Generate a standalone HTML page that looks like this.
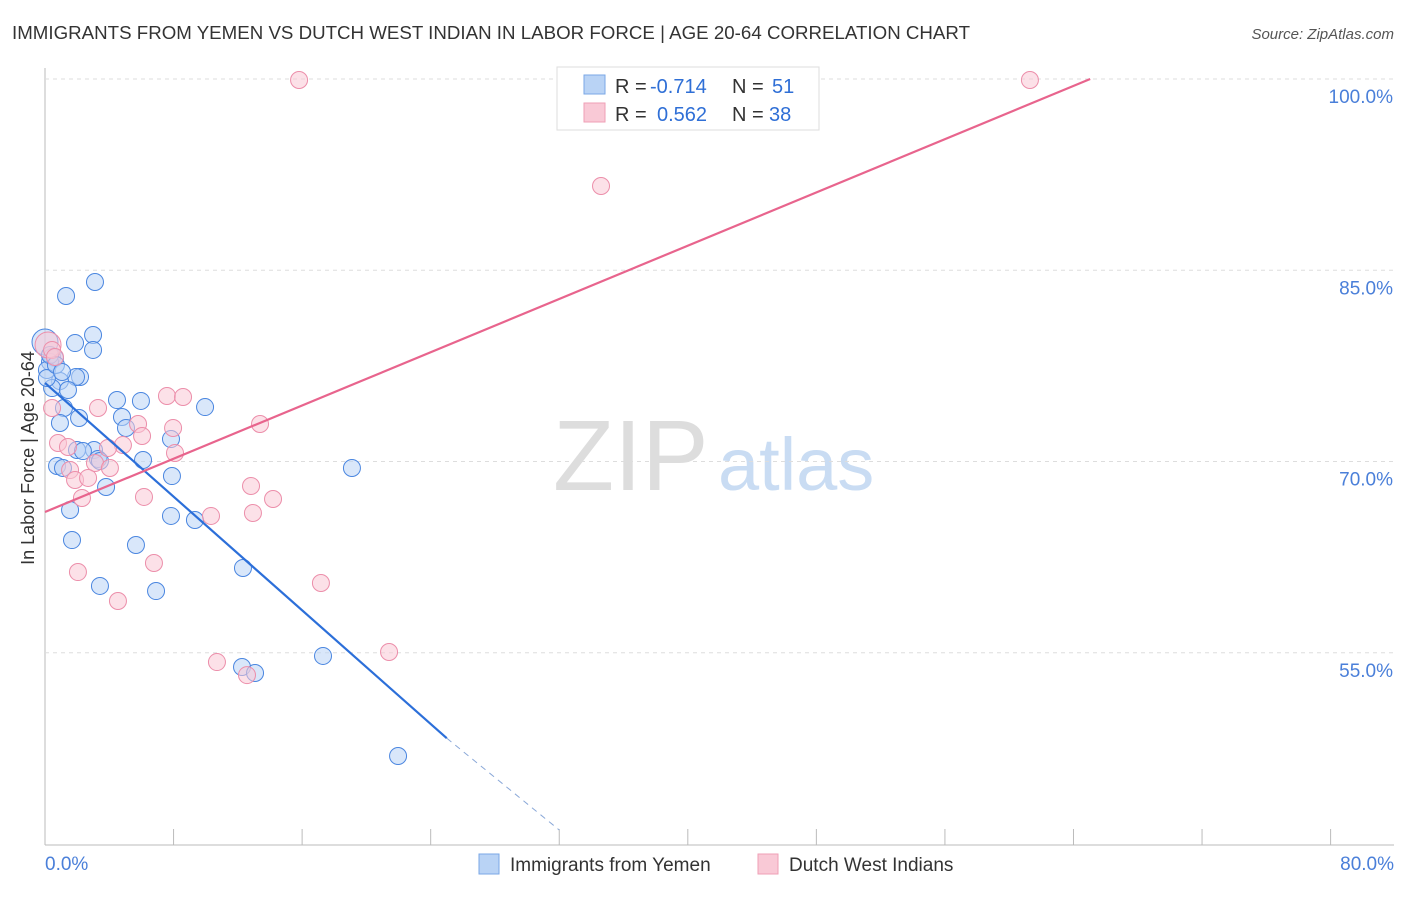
<!DOCTYPE html>
<html><head><meta charset="utf-8"><style>
body{margin:0;background:#fff;font-family:"Liberation Sans",sans-serif;}
svg text{font-family:"Liberation Sans",sans-serif;}
</style></head><body>
<svg id="chart" width="1406" height="892">
<text x="12" y="39" font-size="18.7" fill="#333" textLength="958">IMMIGRANTS FROM YEMEN VS DUTCH WEST INDIAN IN LABOR FORCE | AGE 20-64 CORRELATION CHART</text>
<text x="1394" y="39" font-size="15" fill="#555" font-style="italic" text-anchor="end">Source: ZipAtlas.com</text>
<text x="553" y="490" font-size="100" fill="#ddd" font-family="Liberation Serif">ZIP</text>
<text x="718" y="490" font-size="74" fill="#c9dcf3">atlas</text>
<text transform="translate(34,458) rotate(-90)" font-size="18" fill="#333" text-anchor="middle">In Labor Force | Age 20-64</text>
<g id="grid"></g><g id="pts"></g><g id="lines"></g>
<g>
<rect x="557" y="67" width="262" height="63" fill="#fff" stroke="#ddd"/>
<rect x="584" y="75" width="21" height="19" fill="#b9d3f5" stroke="#7aa7e6"/>
<rect x="584" y="103" width="21" height="19" fill="#f9c9d6" stroke="#ef9fb6"/>
<text x="615" y="93" font-size="20" fill="#333">R = </text><text x="650" y="93" font-size="20" fill="#2f6fd6">-0.714</text>
<text x="732" y="93" font-size="20" fill="#333">N = </text><text x="772" y="93" font-size="20" fill="#2f6fd6">51</text>
<text x="615" y="121" font-size="20" fill="#333">R = </text><text x="657" y="121" font-size="20" fill="#2f6fd6">0.562</text>
<text x="732" y="121" font-size="20" fill="#333">N = </text><text x="769" y="121" font-size="20" fill="#2f6fd6">38</text>
</g>
<g>
<rect x="479" y="854" width="20" height="20" fill="#b9d3f5" stroke="#7aa7e6"/>
<text x="510" y="871" font-size="19" fill="#333">Immigrants from Yemen</text>
<rect x="758" y="854" width="20" height="20" fill="#f9c9d6" stroke="#ef9fb6"/>
<text x="789" y="871" font-size="19" fill="#333">Dutch West Indians</text>
</g>
</svg>
<script>
const xTicks=[0,8,16,24,32,40,48,56,64,72,80];
const yTicks=[55,70,85,100];
const blueXpx=[95,66,93,75,93,45,52,55,50,47,80,76,60,52,68,117,141,64,122,79,60,205,126,171,94,77,83,98,143,57,63,100,172,352,106,70,171,195,72,136,243,100,156,323,242,255,398,47,50,56,62];
const blueYpx=[282,296,335,343,350,342,357,358,362,370,377,377,381,388,390,400,401,408,417,418,423,407,428,439,450,450,451,459,460,466,468,461,476,468,487,510,516,520,540,545,568,586,591,656,667,673,756,378,355,365,372];
const pinkXpx=[299,1030,601,48,52,55,52,98,167,183,58,68,138,173,142,123,108,260,175,95,110,70,75,88,82,144,251,273,211,253,154,78,118,321,389,217,247,615];
const pinkYpx=[80,80,186,345,350,357,408,408,396,397,443,447,424,428,436,445,448,424,453,463,468,470,480,478,498,497,486,499,516,513,563,572,601,583,652,662,675,77];
const blueX=blueXpx.map(p=>+((p-45)/16.07).toFixed(2));
const blueY=blueYpx.map(p=>+(100-(p-79)/12.75).toFixed(2));
const pinkX=pinkXpx.map(p=>+((p-45)/16.07).toFixed(2));
const pinkY=pinkYpx.map(p=>+(100-(p-79)/12.75).toFixed(2));
const blueTrend=[[0,76.16],[25.0,48.3]];
const blueDash=[[25.0,48.3],[32,41.1]];
const pinkTrend=[[0,66.04],[65.04,100]];
const X=v=>45+v*16.07, Y=v=>79+(100-v)*12.75;
const NS='http://www.w3.org/2000/svg';
function mk(par,tag,at){const e=document.createElementNS(NS,tag);for(const k in at)e.setAttribute(k,at[k]);document.getElementById(par).appendChild(e);return e;}
let ax=mk('grid','line',{x1:45,y1:68,x2:45,y2:845,stroke:'#bbb'});


let bx=mk('grid','line',{x1:45,y1:845,x2:1394,y2:845,stroke:'#bbb'});


yTicks.forEach(t=>{
 let g=mk('grid','line',{x1:45,x2:1394,y1:Y(t),y2:Y(t),stroke:'#ddd','stroke-dasharray':'4,4'});
 
 
 let l=mk('grid','text',{x:1393,y:Y(t)+24,'font-size':19,fill:'#4a7fd9','text-anchor':'end'});
 l.textContent=t.toFixed(1)+'%';
 
 
});
xTicks.forEach(t=>{
 if(t>0){let k=mk('grid','line',{x1:X(t),x2:X(t),y1:829,y2:845,stroke:'#bbb'});
 
 }
});
[[0,'0.0%','start',45],[80,'80.0%','end',1394]].forEach(a=>{
 let l=mk('grid','text',{x:a[3],y:870,'font-size':19,fill:'#4a7fd9','text-anchor':a[2]});
 l.textContent=a[1];
 
 
});
function dots(xs,ys,fill,stroke,name,bigIdx){xs.forEach((x,i)=>{
 const big=(i===bigIdx);
 let c=mk('pts','circle',{cx:X(x),cy:Y(ys[i]),r:big?13:8.5,fill:fill,'fill-opacity':0.55,stroke:stroke,'stroke-width':1});
 
 
});}
dots(blueX,blueY,'#b9d3f5','#4a86e0','yemen-point',5);
dots(pinkX,pinkY,'#f9c9d6','#ec8eaa','dutch-west-indian-point',3);
function ln(p,col,w,dash,name){let e=mk('lines','line',{x1:X(p[0][0]),y1:Y(p[0][1]),x2:X(p[1][0]),y2:Y(p[1][1]),stroke:col,'stroke-width':w});
 if(dash)e.setAttribute('stroke-dasharray',dash);
 
 }
ln(blueTrend,'#2c6fd9',2.2,null,'yemen-trend-line');
ln(blueDash,'#8aa8d8',1,'6,5','yemen-trend-extension');
ln(pinkTrend,'#e8648d',2.2,null,'dutch-trend-line');
</script>
</body></html>
